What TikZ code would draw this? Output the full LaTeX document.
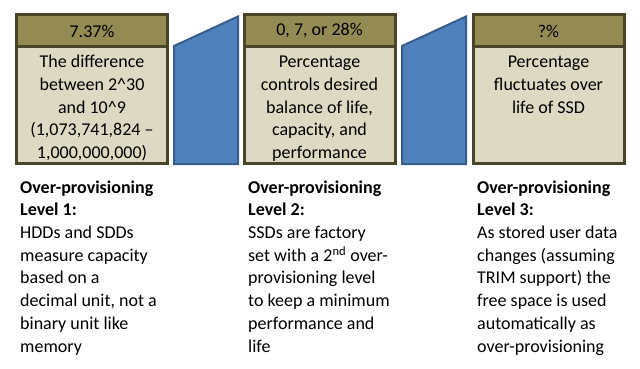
\documentclass[tikz,border=0pt]{standalone}
\usepackage{fontspec}
\setmainfont{Carlito}
\definecolor{hdrfill}{HTML}{948A54}
\definecolor{bodyfill}{HTML}{DDD9C3}
\definecolor{edgecol}{HTML}{4A452A}
\definecolor{bluefill}{HTML}{4F81BD}
\definecolor{blueedge}{HTML}{385D8A}
\begin{document}
\begin{tikzpicture}[x=1pt,y=-1pt,
  hdr/.style={draw=edgecol, line width=3pt, fill=hdrfill, minimum width=151pt, minimum height=32pt, inner sep=0pt, font=\fontsize{18}{22}\selectfont},
  bodybox/.style={draw=edgecol, line width=3pt, fill=bodyfill, minimum width=151pt, minimum height=116.5pt, inner sep=0pt},
  bodytext/.style={align=center, inner sep=0pt, anchor=north, font=\fontsize{18}{22.7}\selectfont},
  desc/.style={align=left, inner sep=0pt, anchor=north west, font=\fontsize{18}{22.7}\selectfont},
  bluearrow/.style={draw=blueedge, fill=bluefill, line width=2pt}]
\useasboundingbox[fill=white] (0,0) rectangle (640,369);
% boxes
\node[bodybox] (b1) at (92,105.25) {};
\node[hdr] (h1) at (92,31) {7.37\%};
\node[bodybox] (b2) at (319.5,105.25) {};
\node[hdr] (h2) at (319.5,31) {0, 7, or 28\%};
\node[bodybox] (b3) at (548.5,105.25) {};
\node[hdr] (h3) at (548.5,31) {?\%};
% body texts
\node[bodytext] (t1) at (92,51.6) {\strut The difference\\between 2\^{}30\\and 10\^{}9\\(1,073,741,824 –\\1,000,000,000)};
\node[bodytext] (t2) at (319.5,51.6) {\strut Percentage\\controls desired\\balance of life,\\capacity, and\\performance};
\node[bodytext] (t3) at (548.5,51.6) {\strut Percentage\\fluctuates over\\life of SSD};
% blue shapes
\path[bluearrow] (174,46) -- (238,16.5) -- (238,164) -- (174,164) -- cycle;
\path[bluearrow] (402,46) -- (466,16.5) -- (466,164) -- (402,164) -- cycle;
% descriptions
\node[desc] (d1) at (20,177.1) {\strut\textbf{Over-provisioning}\\\textbf{Level 1:}\\HDDs and SDDs\\measure capacity\\based on a\\decimal unit, not a\\binary unit like\\memory};
\node[desc] (d2) at (248,177.1) {\strut\textbf{Over-provisioning}\\\textbf{Level 2:}\\SSDs are factory\\set with a 2\textsuperscript{nd} over-\\provisioning level\\to keep a minimum\\performance and\\life};
\node[desc] (d3) at (477,177.1) {\strut\textbf{Over-provisioning}\\\textbf{Level 3:}\\As stored user data\\changes (assuming\\TRIM support) the\\free space is used\\automatically as\\over-provisioning};
\end{tikzpicture}
\end{document}
